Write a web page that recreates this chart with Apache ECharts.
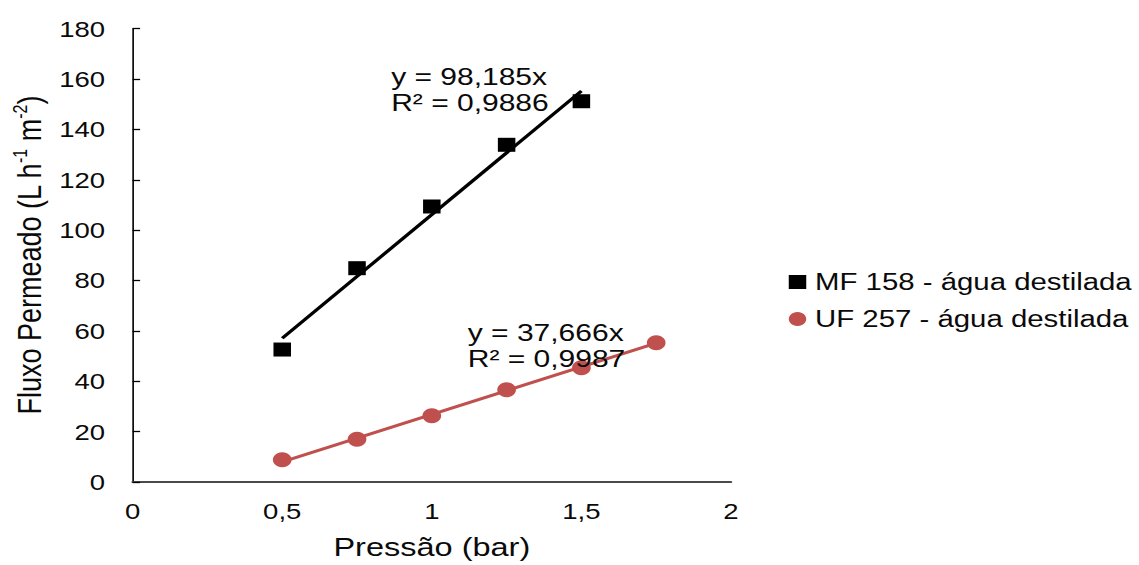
<!DOCTYPE html>
<html>
<head>
<meta charset="utf-8">
<script src="https://cdn.jsdelivr.net/npm/echarts@6/dist/echarts.min.js"></script>
<style>
  html, body { margin: 0; padding: 0; background: #fff; overflow: hidden; }
  /* the chart is laid out narrow and widened horizontally */
  #chart { width: 911.2px; height: 565px; transform: scaleX(1.25); transform-origin: 0 0; }
</style>
</head>
<body>
<div id="chart"></div>
<script>
// Pressão (bar)
const pressureMF = [0.5, 0.75, 1, 1.25, 1.5];
const pressureUF = [0.5, 0.75, 1, 1.25, 1.5, 1.75];
// Fluxo permeado (L h-1 m-2)
const fluxMF = [52.6, 84.9, 109.4, 133.9, 151.2];
const fluxUF = [8.8, 17.0, 26.3, 36.6, 45.4, 55.3];

// linear trend lines
const fitMF = { slope: 98.185, intercept: 8.0, r2: '0,9886', from: 0.5, to: 1.5 };
const fitUF = { slope: 37.666, intercept: -10.8, r2: '0,9987', from: 0.5, to: 1.75 };

const xTickLabels = ['0', '0,5', '1', '1,5', '2'];
const yTickLabels = ['0', '20', '40', '60', '80', '100', '120', '140', '160', '180'];

const nameMF = 'MF 158 - água destilada';
const nameUF = 'UF 257 - água destilada';

const FONT = "'Liberation Sans', Arial, sans-serif";
const RED = '#C0504D';
const INK = '#0a0a0a';

function fitPoints(fit) {
  return [fit.from, fit.to].map(x => [x, fit.slope * x + fit.intercept]);
}
function eqText(fit) {
  return 'y = ' + String(fit.slope).replace('.', ',') + 'x\nR² = ' + fit.r2;
}
function eqLabel(fit, coord) {
  return {
    symbol: 'circle', symbolSize: 1,
    itemStyle: { color: 'rgba(0,0,0,0)' },
    silent: true,
    animation: false,
    label: {
      show: true, position: 'right', distance: 0,
      formatter: eqText(fit),
      fontFamily: FONT, fontSize: 24, lineHeight: 26, color: INK, align: 'left'
    },
    data: [{ coord: coord }]
  };
}

const chart = echarts.init(document.getElementById('chart'), null, { renderer: 'svg' });
chart.setOption({
  animation: false,
  backgroundColor: '#fff',
  textStyle: { fontFamily: FONT },
  grid: { left: 104, top: 28.7, width: 480.8, height: 454.3, containLabel: false },
  legend: {
    orient: 'vertical', left: 626, top: 265,
    itemWidth: 14, itemHeight: 14, itemGap: 13,
    textStyle: { fontFamily: FONT, fontSize: 23.5, color: INK, padding: [0, 0, 0, 2] },
    data: [{ name: nameMF, icon: 'rect' }, { name: nameUF, icon: 'circle' }],
    selectedMode: false
  },
  xAxis: {
    type: 'value', min: 0, max: 2, interval: 0.5,
    axisLine: { show: true, onZero: false, lineStyle: { color: '#4a4a4a', width: 2 } },
    axisTick: { show: false },
    splitLine: { show: false },
    axisLabel: {
      margin: 18, fontSize: 22, color: INK, fontFamily: FONT,
      formatter: v => xTickLabels[Math.round(v / 0.5)]
    },
    name: 'Pressão (bar)', nameLocation: 'middle', nameGap: 52,
    nameTextStyle: { fontSize: 26, color: INK, fontFamily: FONT }
  },
  yAxis: {
    type: 'value', min: 0, max: 180, interval: 20,
    axisLine: { show: true, lineStyle: { color: '#000', width: 1.3 } },
    axisTick: { show: true, inside: true, length: 6, lineStyle: { color: '#000', width: 1.3 } },
    splitLine: { show: false },
    axisLabel: {
      margin: 22, fontSize: 22, color: INK, fontFamily: FONT,
      formatter: v => yTickLabels[Math.round(v / 20)]
    },
    name: '{a|Fluxo Permeado (L h}{s|-1}{a| m}{s|-2}{a|)}',
    nameLocation: 'middle', nameGap: 68,
    nameTextStyle: {
      rich: {
        a: { fontSize: 27, color: INK, fontFamily: FONT, lineHeight: 30 },
        s: { fontSize: 16, color: INK, fontFamily: FONT, verticalAlign: 'top', lineHeight: 30 }
      }
    }
  },
  series: [
    {
      name: 'trend MF', type: 'line', data: fitPoints(fitMF),
      symbol: 'none', silent: true, z: 2,
      lineStyle: { color: '#000', width: 3 },
      markPoint: eqLabel(fitMF, [0.862, 155.7])
    },
    {
      name: 'trend UF', type: 'line', data: fitPoints(fitUF),
      symbol: 'none', silent: true, z: 2,
      lineStyle: { color: RED, width: 3 },
      markPoint: eqLabel(fitUF, [1.118, 54.3])
    },
    {
      name: nameMF, type: 'scatter', z: 3,
      symbol: 'rect', symbolSize: 14,
      itemStyle: { color: '#000', opacity: 1 },
      data: pressureMF.map((x, i) => [x, fluxMF[i]])
    },
    {
      name: nameUF, type: 'scatter', z: 3,
      symbol: 'circle', symbolSize: 15,
      itemStyle: { color: RED, opacity: 1 },
      data: pressureUF.map((x, i) => [x, fluxUF[i]])
    }
  ]
});
</script>
</body>
</html>
